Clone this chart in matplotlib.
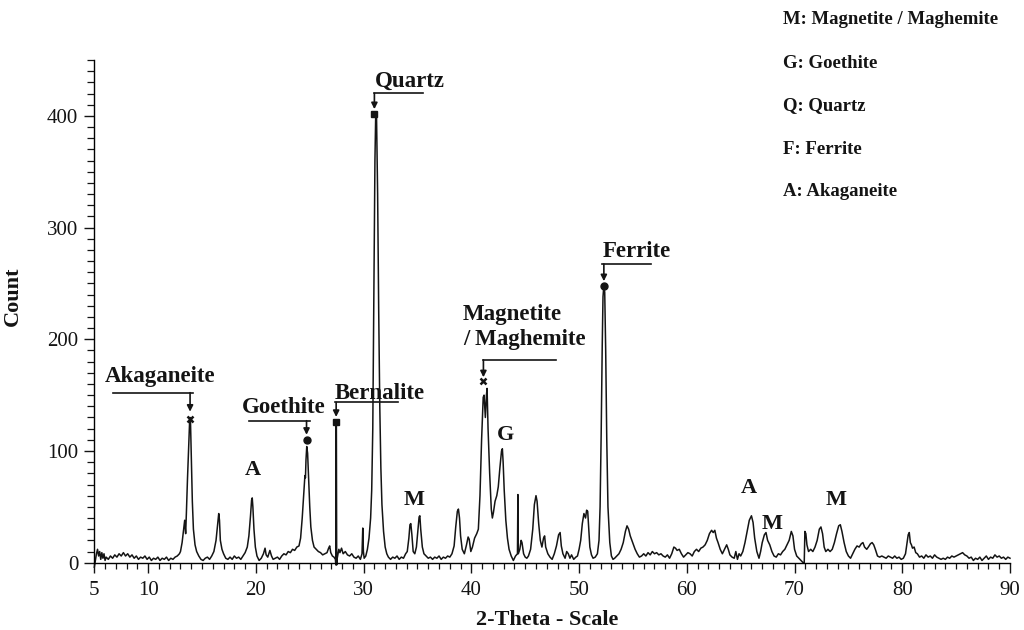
import matplotlib.pyplot as plt
from matplotlib.ticker import MultipleLocator
import numpy as np

plt.rcParams['font.family'] = ['Liberation Serif', 'DejaVu Serif']

# XRD trace: 2-theta (deg) and count
two_theta = [
    5.0, 5.2, 5.3, 5.4, 5.5, 5.6, 5.7, 5.8, 5.9, 6.0, 6.1, 6.3, 6.5, 6.7, 6.9, 7.1, 7.3, 7.5, 7.7, 7.9,
    8.1, 8.3, 8.5, 8.7, 8.9, 9.1, 9.3, 9.5, 9.7, 9.9, 10.1, 10.3, 10.5, 10.7, 10.9, 11.1, 11.3, 11.5, 11.7, 11.9,
    12.1, 12.3, 12.5, 12.7, 12.9, 13.0, 13.15, 13.3, 13.39, 13.48, 13.55, 13.65, 13.75, 13.85, 13.89, 13.93, 14.0, 14.1, 14.2, 14.35,
    14.5, 14.7, 14.9, 15.1, 15.3, 15.5, 15.7, 15.9, 16.1, 16.3, 16.45, 16.55, 16.62, 16.7, 16.85, 17.0, 17.2, 17.4, 17.6, 17.8,
    18.0, 18.2, 18.4, 18.6, 18.8, 19.0, 19.2, 19.35, 19.5, 19.6, 19.66, 19.72, 19.82, 19.95, 20.1, 20.3, 20.5, 20.7, 20.85, 20.95,
    21.1, 21.3, 21.45, 21.6, 21.8, 22.0, 22.2, 22.4, 22.6, 22.8, 23.0, 23.2, 23.4, 23.6, 23.8, 24.0, 24.15, 24.3, 24.45, 24.55,
    24.6, 24.65, 24.72, 24.8, 24.9, 25.0, 25.1, 25.25, 25.4, 25.6, 25.8, 26.0, 26.2, 26.4, 26.6, 26.75, 26.85, 26.95, 27.1, 27.25,
    27.38, 27.42, 27.44, 27.47, 27.5, 27.55, 27.7, 27.8, 27.95, 28.1, 28.3, 28.5, 28.7, 28.9, 29.1, 29.3, 29.5, 29.7, 29.85, 29.92,
    29.98, 30.05, 30.2, 30.35, 30.5, 30.65, 30.75, 30.85, 30.95, 31.05, 31.12, 31.2, 31.3, 31.4, 31.5, 31.6, 31.7, 31.85, 32.0, 32.15,
    32.3, 32.5, 32.7, 32.9, 33.1, 33.3, 33.5, 33.7, 33.9, 34.05, 34.2, 34.3, 34.38, 34.48, 34.6, 34.75, 34.9, 35.05, 35.15, 35.22, 35.3,
    35.45, 35.6, 35.8, 36.0, 36.2, 36.4, 36.6, 36.8, 37.0, 37.2, 37.4, 37.6, 37.8, 38.0, 38.2, 38.4, 38.55, 38.7, 38.8, 38.9,
    39.0, 39.15, 39.35, 39.55, 39.7, 39.8, 39.95, 40.1, 40.3, 40.5, 40.65, 40.8, 40.95, 41.1, 41.18, 41.3, 41.4, 41.46, 41.55, 41.7,
    41.85, 41.95, 42.05, 42.2, 42.36, 42.5, 42.65, 42.8, 42.88, 42.95, 43.05, 43.2, 43.35, 43.5, 43.7, 43.9, 44.1, 44.28, 44.32, 44.36,
    44.5, 44.62, 44.7, 44.85, 45.0, 45.15, 45.3, 45.5, 45.7, 45.85, 46.0, 46.1, 46.25, 46.4, 46.55, 46.7, 46.8, 46.9, 47.1, 47.3,
    47.5, 47.7, 47.9, 48.1, 48.24, 48.35, 48.5, 48.7, 48.85, 49.0, 49.15, 49.3, 49.5, 49.7, 49.85, 50.0, 50.15, 50.3, 50.45, 50.6,
    50.7, 50.8, 50.9, 51.0, 51.15, 51.3, 51.5, 51.7, 51.85, 51.95, 52.05, 52.15, 52.22, 52.3, 52.38, 52.47, 52.57, 52.68, 52.85, 53.0,
    53.15, 53.3, 53.5, 53.7, 53.9, 54.1, 54.3, 54.45, 54.6, 54.75, 54.9, 55.05, 55.2, 55.4, 55.6, 55.8, 56.0, 56.2, 56.4, 56.6,
    56.8, 57.0, 57.2, 57.4, 57.6, 57.8, 58.0, 58.2, 58.4, 58.6, 58.8, 58.95, 59.1, 59.3, 59.5, 59.7, 59.9, 60.1, 60.3, 60.5,
    60.7, 60.9, 61.1, 61.3, 61.5, 61.7, 61.9, 62.1, 62.3, 62.45, 62.6, 62.75, 62.9, 63.1, 63.3, 63.5, 63.7, 63.85, 64.0, 64.2,
    64.4, 64.55, 64.7, 64.85, 65.0, 65.2, 65.4, 65.6, 65.8, 66.0, 66.15, 66.3, 66.5, 66.7, 66.85, 67.0, 67.2, 67.35, 67.5, 67.7,
    67.9, 68.1, 68.3, 68.5, 68.7, 68.9, 69.1, 69.3, 69.5, 69.7, 69.85, 70.0, 70.2, 70.4, 70.6, 70.8, 70.9, 70.96, 71.05, 71.15,
    71.3, 71.5, 71.7, 71.9, 72.1, 72.3, 72.45, 72.6, 72.75, 72.9, 73.1, 73.3, 73.5, 73.7, 73.9, 74.1, 74.25, 74.4, 74.6, 74.8,
    75.0, 75.2, 75.4, 75.6, 75.8, 76.0, 76.2, 76.35, 76.5, 76.7, 76.85, 77.05, 77.2, 77.35, 77.5, 77.7, 77.9, 78.1, 78.3, 78.5,
    78.7, 78.9, 79.1, 79.3, 79.5, 79.7, 79.9, 80.1, 80.3, 80.45, 80.55, 80.65, 80.75, 80.85, 80.95, 81.1, 81.25, 81.4, 81.6, 81.8,
    82.0, 82.2, 82.4, 82.6, 82.8, 83.0, 83.2, 83.4, 83.6, 83.8, 84.0, 84.2, 84.4, 84.6, 84.8, 85.0, 85.2, 85.4, 85.6, 85.8,
    86.0, 86.2, 86.4, 86.6, 86.8, 87.0, 87.2, 87.4, 87.6, 87.8, 88.0, 88.2, 88.4, 88.6, 88.8, 89.0, 89.2, 89.4, 89.6, 89.8,
    90.0,
]
counts = [
    -4, 8, 12, 6, 10, 3, 9, 4, 8, 2, 5, 3, 6, 4, 7, 5, 8, 6, 9, 6,
    8, 5, 7, 4, 6, 3, 5, 4, 6, 3, 5, 2, 4, 3, 5, 2, 4, 3, 5, 2,
    4, 3, 5, 6, 8, 10, 18, 30, 38, 26, 45, 75, 100, 127, 130, 126, 95, 55, 30, 16,
    10, 6, 3, 2, 4, 5, 3, 6, 10, 20, 35, 44, 38, 20, 12, 8, 4, 3, 5, 3,
    6, 4, 5, 3, 6, 9, 14, 24, 42, 56, 58, 50, 30, 14, 6, 2, 4, 8, 13, 7,
    5, 11, 6, 3, 4, 5, 3, 6, 8, 7, 10, 9, 12, 11, 14, 15, 22, 40, 62, 78,
    76, 92, 104, 98, 75, 50, 32, 20, 14, 12, 10, 9, 7, 8, 9, 13, 15, 9, 6, 5,
    3, -2, 126, 126, -2, 4, 12, 9, 13, 8, 10, 7, 6, 8, 5, 4, 6, 3, 8, 31,
    10, 4, 6, 12, 22, 40, 65, 120, 240, 360, 400, 398, 330, 225, 140, 85, 52, 28, 14, 8,
    5, 3, 5, 4, 6, 3, 5, 4, 8, 10, 22, 34, 35, 25, 10, 8, 14, 30, 41, 42, 30,
    14, 8, 6, 4, 5, 3, 5, 4, 6, 3, 5, 4, 6, 5, 8, 15, 32, 46, 48, 40,
    24, 12, 8, 16, 23, 21, 10, 14, 22, 26, 30, 60, 110, 148, 150, 130, 150, 156, 120, 80,
    48, 40, 45, 55, 60, 68, 85, 100, 102, 90, 65, 38, 22, 12, 6, 2, 6, 8, 61, 8,
    12, 20, 18, 8, 5, 4, 6, 12, 30, 52, 60, 55, 35, 20, 14, 22, 24, 14, 8, 5,
    3, 8, 15, 25, 27, 15, 8, 4, 10, 8, 4, 7, 3, 5, 6, 12, 20, 35, 44, 40,
    47, 46, 30, 14, 7, 4, 5, 8, 20, 50, 115, 195, 238, 248, 242, 190, 110, 50, 18, 6,
    3, 4, 6, 8, 12, 18, 28, 33, 30, 24, 20, 16, 12, 8, 5, 6, 8, 6, 9, 7,
    10, 8, 9, 7, 8, 6, 5, 7, 4, 8, 14, 13, 11, 12, 8, 5, 7, 9, 8, 6,
    10, 12, 10, 13, 14, 16, 20, 26, 29, 27, 29, 22, 18, 12, 8, 12, 16, 12, 7, 5,
    4, 10, 3, 8, 6, 10, 18, 28, 38, 42, 36, 22, 10, 4, 10, 18, 25, 27, 20, 16,
    10, 6, 5, 8, 7, 10, 12, 16, 20, 28, 24, 12, 6, 4, 2, 0, 0, 28, 26, 16,
    10, 12, 10, 14, 20, 30, 32, 26, 14, 10, 12, 10, 12, 18, 26, 33, 34, 28, 18, 10,
    6, 4, 8, 12, 15, 14, 17, 18, 14, 12, 14, 17, 18, 16, 12, 6, 5, 6, 5, 4,
    6, 5, 4, 6, 4, 5, 3, 4, 8, 18, 25, 27, 18, 16, 13, 14, 9, 8, 5, 6,
    4, 7, 5, 6, 4, 7, 5, 4, 3, 4, 3, 5, 4, 6, 5, 6, 7, 8, 9, 7,
    6, 4, 5, 2, 4, 3, 5, 2, 4, 6, 3, 5, 4, 7, 5, 6, 4, 5, 3, 5,
    4,
]

# identified phases: label, peak 2-theta, marker height, marker style
phase_names = ['Akaganeite', 'Goethite', 'Bernalite', 'Quartz', 'Magnetite\n/ Maghemite', 'Ferrite']
phase_theta = [13.89, 24.7, 27.45, 31.0, 41.12, 52.3]
phase_marker_y = [129, 110, 126, 402, 163, 248]
phase_marker = ['x', 'o', 's', 's', 'x', 'o']

# leader layout: text left x, text baseline y, line ends x, line height, arrow tip y
lead_text_x = [6.0, 18.66, 27.35, 31.07, 39.2, 52.23]
lead_text_y = [162, 134, 146.3, 426, 195, 274]
lead_line_x0 = [6.76, 19.39, 27.35, 30.95, 41.12, 52.17]
lead_line_x1 = [14.19, 25.03, 33.23, 35.49, 47.87, 56.66]
lead_line_y = [152.2, 127.1, 143.6, 420.2, 181.5, 267.4]
lead_tip_y = [135.2, 114.5, 130.5, 406, 166, 252]

# single-letter peak tags
tag_text = ['A', 'M', 'G', 'A', 'M', 'M']
tag_x = [19.69, 34.73, 43.18, 65.79, 67.92, 73.82]
tag_y = [83, 55.7, 114.3, 66.9, 34.9, 55.7]

legend_lines = ['M: Magnetite / Maghemite', 'G: Goethite', 'Q: Quartz', 'F: Ferrite', 'A: Akaganeite']

ink = '#141414'

fig = plt.figure(figsize=(10.24, 6.30), dpi=100)
ax = fig.add_axes([94.3 / 1024, 67.3 / 630, 915.7 / 1024, 502.7 / 630])

ax.plot(two_theta, counts, color=ink, lw=1.1, clip_on=False)

ax.set_xlim(5, 90)
ax.set_ylim(0, 450)
for s in ['top', 'right']:
    ax.spines[s].set_visible(False)
ax.spines['left'].set_bounds(0, 450)
ax.spines['bottom'].set_bounds(5, 90)
ax.spines['left'].set_linewidth(1.0)
ax.spines['bottom'].set_linewidth(1.0)

ax.set_xticks([5, 10, 20, 30, 40, 50, 60, 70, 80, 90])
ax.xaxis.set_minor_locator(MultipleLocator(1))
ax.yaxis.set_major_locator(MultipleLocator(100))
ax.yaxis.set_minor_locator(MultipleLocator(10))
ax.tick_params(axis='x', which='major', length=7.5, width=1.0, pad=6, labelsize=15, colors=ink)
ax.tick_params(axis='x', which='minor', length=4, width=0.9, colors=ink)
ax.tick_params(axis='y', which='major', length=7.5, width=1.0, pad=4, labelsize=15, colors=ink)
ax.tick_params(axis='y', which='minor', length=5, width=0.9, colors=ink)

ax.set_xlabel('2-Theta - Scale', fontsize=16, fontweight='bold', color=ink)
ax.set_ylabel('Count', fontsize=16, fontweight='bold', color=ink)
ax.xaxis.set_label_coords(0.495, -0.095)
ax.yaxis.set_label_coords(-0.078, 0.53)

for i, name in enumerate(phase_names):
    ax.text(lead_text_x[i], lead_text_y[i], name, fontsize=16.5, fontweight='bold',
            color=ink, ha='left', va='baseline', linespacing=1.25)
    ax.plot([lead_line_x0[i], lead_line_x1[i]], [lead_line_y[i], lead_line_y[i]],
            color=ink, lw=1.2)
    ax.annotate('', xy=(phase_theta[i], lead_tip_y[i]), xytext=(phase_theta[i], lead_line_y[i]),
                arrowprops=dict(arrowstyle='-|>', color=ink, lw=1.2,
                                mutation_scale=9, shrinkA=0, shrinkB=0))
    if phase_marker[i] == 'x':
        ax.plot(phase_theta[i], phase_marker_y[i], marker='x', ms=5, mew=1.8, color=ink)
    else:
        ax.plot(phase_theta[i], phase_marker_y[i], marker=phase_marker[i], ms=5, color=ink)

for t, x, y in zip(tag_text, tag_x, tag_y):
    ax.text(x, y, t, fontsize=16, fontweight='bold', color=ink, ha='center', va='center')

for k, line in enumerate(legend_lines):
    fig.text(783 / 1024, 1 - (20 + 43 * k) / 630, line, fontsize=13.5, fontweight='bold',
             color=ink, ha='left', va='center')

fig.savefig('out.png', dpi=100)
